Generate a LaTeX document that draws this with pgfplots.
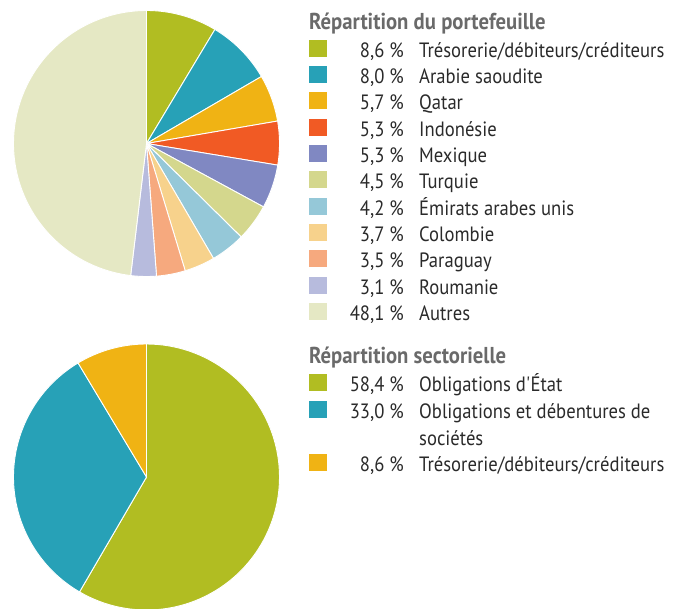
\documentclass[border=0pt]{standalone}
\usepackage{fontspec}
\setmainfont{PT Sans}[FakeStretch=0.9]
\usepackage{pgfplots}
\pgfplotsset{compat=1.18}
\definecolor{cA}{HTML}{B1BD22}
\definecolor{cB}{HTML}{27A1B7}
\definecolor{cC}{HTML}{F0B314}
\definecolor{cD}{HTML}{F15A24}
\definecolor{cE}{HTML}{8088C2}
\definecolor{cF}{HTML}{D4D78D}
\definecolor{cG}{HTML}{95C8D8}
\definecolor{cH}{HTML}{F7D28C}
\definecolor{cI}{HTML}{F6A97E}
\definecolor{cJ}{HTML}{B7BBDD}
\definecolor{cK}{HTML}{E5E8C4}
\definecolor{txt}{HTML}{2A2A2A}
\definecolor{head}{HTML}{6A6A6A}
\tikzset{
  lt/.style={inner sep=0pt, text=txt, font=\fontsize{20.7bp}{24bp}\selectfont},
  ht/.style={inner sep=0pt, text=head, font=\fontsize{23bp}{26bp}\selectfont\bfseries},
}
% slice: cx, cy, r, start %, end %, colour
\newcommand{\slice}[6]{%
  \addplot[fill=#6, draw=white, line width=0.9bp, domain=-90+3.6*#4:-90+3.6*#5, samples=90, variable=\t]
    ({#1+#3*cos(\t)},{#2+#3*sin(\t)}) -- (axis cs:#1,#2) -- cycle;}
% legend row: baseline y, colour, percent, label
\newcommand{\lrow}[4]{%
  \fill[#2] (axis cs:309,#1-17.5) rectangle (axis cs:327,#1-0.5);
  \node[lt, anchor=base east] at (axis cs:404,#1) {#3};
  \node[lt, anchor=base west] at (axis cs:419,#1) {#4};}
\begin{document}
\begin{tikzpicture}
\begin{axis}[
  scale only axis, width=681bp, height=609bp,
  xmin=0, xmax=681, ymin=0, ymax=609, y dir=reverse,
  hide axis, clip=true,
]
% Portfolio breakdown (percent): 8.6, 8.0, 5.7, 5.3, 5.3, 4.5, 4.2, 3.7, 3.5, 3.1, 48.1
\slice{146.5}{143.5}{133}{0}{8.6}{cA}
\slice{146.5}{143.5}{133}{8.6}{16.6}{cB}
\slice{146.5}{143.5}{133}{16.6}{22.3}{cC}
\slice{146.5}{143.5}{133}{22.3}{27.6}{cD}
\slice{146.5}{143.5}{133}{27.6}{32.9}{cE}
\slice{146.5}{143.5}{133}{32.9}{37.4}{cF}
\slice{146.5}{143.5}{133}{37.4}{41.6}{cG}
\slice{146.5}{143.5}{133}{41.6}{45.3}{cH}
\slice{146.5}{143.5}{133}{45.3}{48.8}{cI}
\slice{146.5}{143.5}{133}{48.8}{51.9}{cJ}
\slice{146.5}{143.5}{133}{51.9}{100}{cK}
% Sector breakdown (percent): 58.4, 33.0, 8.6
\slice{146.5}{477}{133}{0}{58.4}{cA}
\slice{146.5}{477}{133}{58.4}{91.4}{cB}
\slice{146.5}{477}{133}{91.4}{100}{cC}

\node[ht, anchor=base west] at (axis cs:309,29.3) {Répartition du portefeuille};
\lrow{57.3}{cA}{8,6 \%}{Trésorerie/débiteurs/créditeurs}
\lrow{83.6}{cB}{8,0 \%}{Arabie saoudite}
\lrow{109.9}{cC}{5,7 \%}{Qatar}
\lrow{136.2}{cD}{5,3 \%}{Indonésie}
\lrow{162.5}{cE}{5,3 \%}{Mexique}
\lrow{188.8}{cF}{4,5 \%}{Turquie}
\lrow{215.1}{cG}{4,2 \%}{Émirats arabes unis}
\lrow{241.4}{cH}{3,7 \%}{Colombie}
\lrow{267.7}{cI}{3,5 \%}{Paraguay}
\lrow{294.0}{cJ}{3,1 \%}{Roumanie}
\lrow{320.3}{cK}{48,1 \%}{Autres}

\node[ht, anchor=base west] at (axis cs:309,363.3) {Répartition sectorielle};
\lrow{391.7}{cA}{58,4 \%}{Obligations d\textquotesingle État}
\lrow{418.3}{cB}{33,0 \%}{Obligations et débentures de}
\node[lt, anchor=base west] at (axis cs:419,445) {sociétés};
\lrow{471.7}{cC}{8,6 \%}{Trésorerie/débiteurs/créditeurs}
\end{axis}
\pgfresetboundingbox
\useasboundingbox (current axis.south west) rectangle (current axis.north east);
\end{tikzpicture}
\end{document}
